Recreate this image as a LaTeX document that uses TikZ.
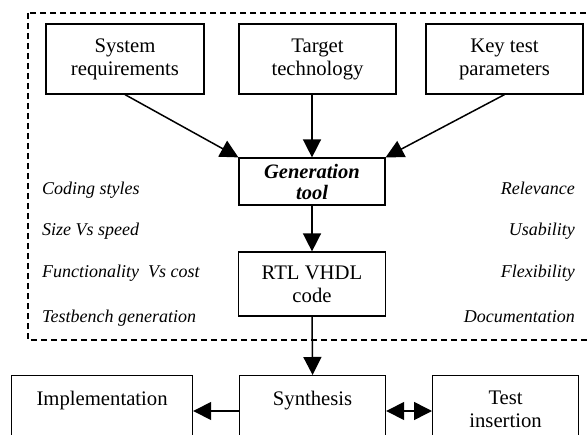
\documentclass[tikz,border=0pt]{standalone}
\usepackage{fontspec}
\setmainfont{Liberation Serif}
\usetikzlibrary{arrows.meta,calc}
\begin{document}
\begin{tikzpicture}[x=1pt,y=-1pt,
  box/.style={draw, line width=1.2pt, inner sep=0pt, align=center,
    font=\fontsize{20.7}{23}\selectfont},
  txt/.style={inner sep=0pt, align=center, font=\fontsize{20.7}{23}\selectfont},
  note/.style={inner sep=0pt, font=\fontsize{18}{21}\selectfont\itshape},
  flow/.style={line width=1.5pt, -{Triangle[length=18pt,width=18pt]}},
  twoway/.style={line width=1.5pt, {Triangle[length=18pt,width=18pt]}-{Triangle[length=18pt,width=18pt]}},
  frame/.style={line width=1.2pt, dash pattern=on 6pt off 4pt}]
\useasboundingbox (0,0) rectangle (588,435);
\clip (0,0) rectangle (588,435);

% dashed frame around the generation flow (open to the right)
\draw[frame] (28,13) rectangle (620,340);

% inputs
\node[box, minimum width=158pt, minimum height=70pt] (sysreq) at (125,59) {System\\requirements};
\node[box, minimum width=157pt, minimum height=70pt] (target) at (317.5,59) {Target\\technology};
\node[box, minimum width=157pt, minimum height=70pt] (keytp) at (504.5,59) {Key test\\parameters};

% generator and its output
\node[box, minimum width=146pt, minimum height=47pt, font=\fontsize{20.5}{21}\selectfont\bfseries\itshape] (gen) at (312,181.5) {Generation\\tool};
\node[box, minimum width=147pt, minimum height=64pt] (rtl) at (312,284) {RTL VHDL\\code};

% downstream steps
\node[box, minimum width=181pt, minimum height=90pt, anchor=north west] (impl) at (11,375) {};
\node[box, minimum width=146pt, minimum height=90pt, anchor=north west] (syn) at (239,375) {};
\node[box, minimum width=146pt, minimum height=90pt, anchor=north west] (test) at (432,375) {};
\node[txt, anchor=base] (impltxt) at ($(impl.north)+(0,30)$) {Implementation};
\node[txt, anchor=base] (syntxt) at ($(syn.north)+(0,30)$) {Synthesis};
\node[txt, anchor=north] (testtxt) at ($(test.north)+(0,16)$) {Test\\insertion};

% criteria
\node[note, anchor=base west] (c1) at (42,195) {Coding styles};
\node[note, anchor=base west] (c2) at (42,236) {Size Vs speed};
\node[note, anchor=base west] (c3) at (42,277) {Functionality\ \ Vs cost};
\node[note, anchor=base west] (c4) at (42,322) {Testbench generation};
\node[note, anchor=base east] (q1) at (575,195) {Relevance};
\node[note, anchor=base east] (q2) at (575,236) {Usability};
\node[note, anchor=base east] (q3) at (575,277) {Flexibility};
\node[note, anchor=base east] (q4) at (575,322) {Documentation};

% connectors
\draw[flow] (sysreq.south) -- (gen.north west);
\draw[flow] (target.south -| gen.north) -- (gen.north);
\draw[flow] (keytp.south) -- (gen.north east);
\draw[flow] (gen.south) -- (rtl.north);
\draw[flow] (rtl.south) -- (syn.north);
\draw[flow] (syn.west |- 0,411) -- (impl.east |- 0,411);
\draw[twoway] (syn.east |- 0,411) -- (test.west |- 0,411);
\end{tikzpicture}
\end{document}
